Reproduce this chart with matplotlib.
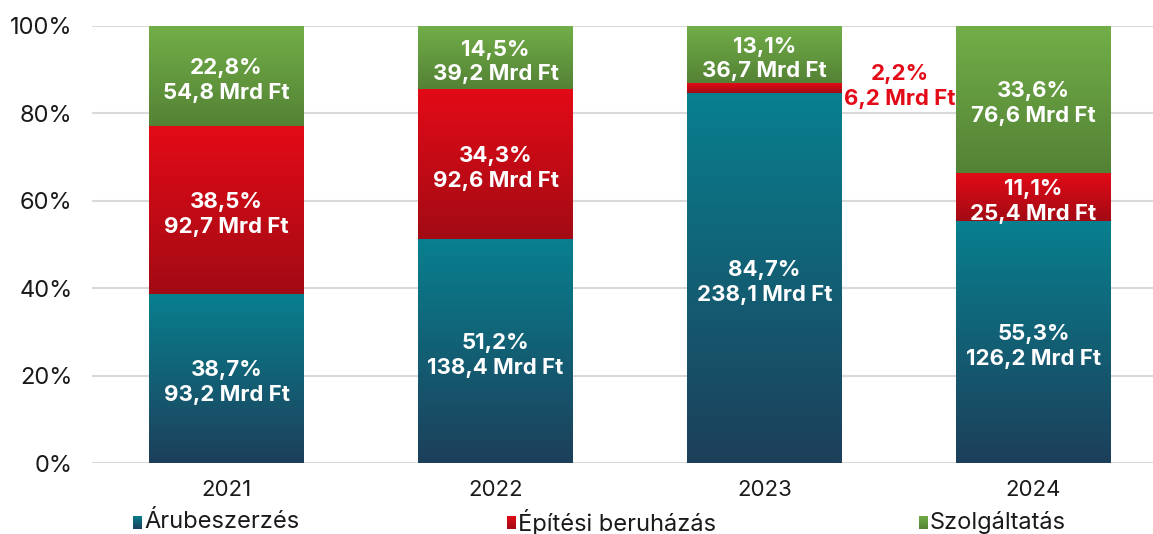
import numpy as np
import matplotlib.pyplot as plt
from matplotlib.colors import LinearSegmentedColormap

# --- Data ---
years = ["2021", "2022", "2023", "2024"]
series = ["Árubeszerzés", "Építési beruházás", "Szolgáltatás"]
aru_pct = [38.7, 51.2, 84.7, 55.3]
epit_pct = [38.5, 34.3, 2.2, 11.1]
szolg_pct = [22.8, 14.5, 13.1, 33.6]
aru_mrd = ["93,2", "138,4", "238,1", "126,2"]
epit_mrd = ["92,7", "92,6", "6,2", "25,4"]
szolg_mrd = ["54,8", "39,2", "36,7", "76,6"]

# gradient colours (top, bottom)
grads = [("#08808f", "#1d3f5a"), ("#e30b17", "#a20a14"), ("#72ae48", "#548235")]

plt.rcParams['font.family'] = ['Inter', 'DejaVu Sans']

fig = plt.figure(figsize=(11.53, 5.34), dpi=100)
ax = fig.add_axes([92 / 1153, 1 - 463 / 534, (1153 - 92) / 1153, (463 - 26) / 534])

x = np.arange(len(years))
width = 0.576
pcts = [aru_pct, epit_pct, szolg_pct]
mrds = [aru_mrd, epit_mrd, szolg_mrd]
bottom = np.zeros(len(years))

for s, (vals, labels) in enumerate(zip(pcts, mrds)):
    cmap = LinearSegmentedColormap.from_list("g%d" % s, [grads[s][1], grads[s][0]])
    bars = ax.bar(x, vals, width, bottom=bottom, color="none", zorder=2)
    for i, b in enumerate(bars):
        x0, y0 = b.get_x(), b.get_y()
        w, h = b.get_width(), b.get_height()
        grad = np.linspace(0, 1, 256).reshape(-1, 1)
        ax.imshow(grad, cmap=cmap, origin="lower", aspect="auto",
                  extent=(x0, x0 + w, y0, y0 + h), zorder=2)
        txt = "%s%%\n%s Mrd Ft" % (("%.1f" % vals[i]).replace(".", ","), labels[i])
        if h < 5:
            ax.text(x0 + w + 0.215, y0 + h / 2 + 0.3, txt, ha="center", va="center",
                    color="#e30b17", fontsize=16, fontweight="bold", linespacing=1.3, zorder=3)
        else:
            ax.text(x0 + w / 2, y0 + h / 2 - 1, txt, ha="center", va="center",
                    color="white", fontsize=16, fontweight="bold", linespacing=1.3, zorder=3)
    bottom += np.array(vals)

ax.set_xlim(-0.5, 3.444)
ax.set_ylim(0, 100)
ax.set_yticks([0, 20, 40, 60, 80, 100])
ax.set_yticklabels(["0%", "20%", "40%", "60%", "80%", "100%"])
ax.set_xticks(x)
ax.set_xticklabels(years)
ax.tick_params(length=0, colors="#1a1a1a")
ax.tick_params(axis="y", pad=14, labelsize=17)
ax.tick_params(axis="x", pad=12, labelsize=16)
ax.grid(axis="y", color="#d9d9d9", linewidth=1.5, zorder=0)
ax.set_axisbelow(True)
for sp in ax.spines.values():
    sp.set_visible(False)

# legend with gradient squares
leg_x = [133, 507, 919]
for s, name in enumerate(series):
    lx = leg_x[s] / 1153
    cmap = LinearSegmentedColormap.from_list("l%d" % s, [grads[s][1], grads[s][0]])
    lax = fig.add_axes([lx, 1 - 529 / 534, 9 / 1153, 13 / 534])
    lax.imshow(np.linspace(0, 1, 64).reshape(-1, 1), cmap=cmap, origin="lower", aspect="auto")
    lax.axis("off")
    fig.text(lx + 11 / 1153, 1 - 522 / 534, name, ha="left", va="center",
             fontsize=17, color="#1a1a1a")

fig.savefig("out.png", dpi=100)
